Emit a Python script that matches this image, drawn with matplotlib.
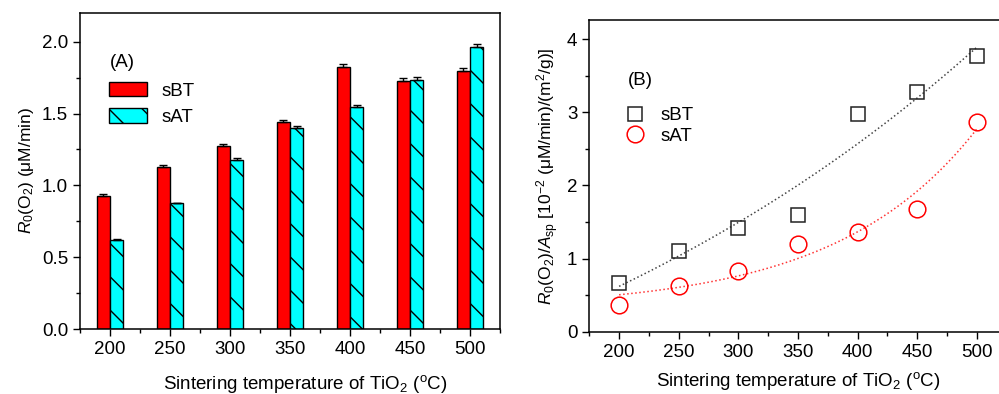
import numpy as np
import matplotlib.pyplot as plt
from matplotlib.ticker import MultipleLocator

plt.rcParams['font.family'] = ['Liberation Sans', 'DejaVu Sans']
plt.rcParams['mathtext.fontset'] = 'custom'
plt.rcParams['mathtext.rm'] = 'Liberation Sans'
plt.rcParams['mathtext.it'] = 'Liberation Sans:italic'
plt.rcParams['hatch.linewidth'] = 1.0

temps = np.array([200, 250, 300, 350, 400, 450, 500])

# panel A: initial O2 rate (uM/min)
rate_sBT = [0.928, 1.13, 1.276, 1.439, 1.826, 1.727, 1.797]
rate_sAT = [0.62, 0.875, 1.18, 1.397, 1.548, 1.736, 1.962]
err_sBT = [0.01, 0.01, 0.015, 0.015, 0.02, 0.02, 0.02]
err_sAT = [0.005, 0.005, 0.01, 0.015, 0.01, 0.015, 0.02]

# panel B: rate per specific area (10^-2 (uM/min)/(m2/g))
spec_sBT = np.array([0.67, 1.10, 1.42, 1.60, 2.97, 3.27, 3.77])
spec_sAT = np.array([0.37, 0.62, 0.83, 1.20, 1.36, 1.68, 2.87])


def exp_fit(x, y):
    # y = y0 + A*exp(x/t), grid search on t, linear lsq for y0, A
    best = None
    for t in np.linspace(20, 2000, 2000):
        M = np.column_stack([np.ones_like(x, dtype=float), np.exp(x / t)])
        coef, res, *_ = np.linalg.lstsq(M, y, rcond=None)
        r = np.sum((M @ coef - y) ** 2)
        if best is None or r < best[0]:
            best = (r, t, coef)
    _, t, coef = best
    return lambda xx: coef[0] + coef[1] * np.exp(xx / t)


fig = plt.figure(figsize=(9.99, 3.94), dpi=100)
W, H = 999, 394
axA = fig.add_axes([80 / W, 1 - 329 / H, 420 / W, 316 / H])
axB = fig.add_axes([589.3 / W, 1 - 331.7 / H, 417.3 / W, 311.7 / H])

w = 11
axA.bar(temps - w / 2, rate_sBT, w, color='#ff0000', edgecolor='black', linewidth=1,
        yerr=[np.zeros(7), err_sBT], capsize=3, error_kw=dict(elinewidth=1, capthick=1),
        label='sBT', zorder=2)
axA.bar(temps + w / 2, rate_sAT, w, color='#00ffff', edgecolor='black', linewidth=1,
        hatch='\\', yerr=[np.zeros(7), err_sAT], capsize=3,
        error_kw=dict(elinewidth=1, capthick=1), label='sAT', zorder=2)
axA.set_xlim(175, 525)
axA.set_ylim(0, 2.2)
axA.xaxis.set_major_locator(MultipleLocator(50))
axA.xaxis.set_minor_locator(MultipleLocator(25))
axA.yaxis.set_major_locator(MultipleLocator(0.5))
axA.yaxis.set_minor_locator(MultipleLocator(0.25))
axA.yaxis.set_major_formatter(plt.FormatStrFormatter('%.1f'))
axA.set_ylabel(r'$\it{R}_0$(O$_2$) (μM/min)', fontsize=12.5)
axA.text(0.072, 0.83, '(A)', transform=axA.transAxes, fontsize=13.5)
axA.legend(loc='upper left', bbox_to_anchor=(0.052, 0.805), frameon=False, fontsize=13.5,
           handlelength=2.0, handleheight=0.8, labelspacing=0.45, handletextpad=0.8,
           borderaxespad=0)

axB.plot(temps, spec_sBT, 's', ms=10, mfc='none', mec='#222222', mew=1.1, label='sBT',
         zorder=3)
axB.plot(temps, spec_sAT, 'o', ms=12, mfc='none', mec='#ff0000', mew=1.1, label='sAT',
         zorder=3)
xx = np.linspace(200, 500, 200)
axB.plot(xx, exp_fit(temps, spec_sBT)(xx), ':', color='#444444', lw=1.1)
axB.plot(xx, exp_fit(temps, spec_sAT)(xx), ':', color='#ff3333', lw=1.1)
axB.set_xlim(175, 525)
axB.set_ylim(0, 4.26)
axB.xaxis.set_major_locator(MultipleLocator(50))
axB.xaxis.set_minor_locator(MultipleLocator(25))
axB.yaxis.set_major_locator(MultipleLocator(1))
axB.yaxis.set_minor_locator(MultipleLocator(0.5))
axB.set_ylabel(r'$\it{R}_0$(O$_2$)/$\it{A}_{\rm sp}$ [10$^{-2}$ (μM/min)/(m$^2$/g)]',
               fontsize=12.5)
axB.text(0.092, 0.79, '(B)', transform=axB.transAxes, fontsize=13.5)
axB.legend(loc='upper left', bbox_to_anchor=(0.055, 0.745), frameon=False, fontsize=13.5,
           handlelength=1.6, labelspacing=0.2, handletextpad=0.6, borderaxespad=0,
           numpoints=1)

for ax in (axA, axB):
    ax.set_xlabel(r'Sintering temperature of TiO$_2$ ($^{\rm o}$C)', fontsize=13.5,
                  labelpad=7)
    ax.tick_params(which='both', direction='out', labelsize=13.5, width=1)
    ax.tick_params(which='major', length=5)
    ax.tick_params(which='minor', length=3)
    for s in ax.spines.values():
        s.set_linewidth(1.1)
axA.xaxis.set_label_coords(0.536, -0.14)

fig.savefig('out.png', dpi=100)
